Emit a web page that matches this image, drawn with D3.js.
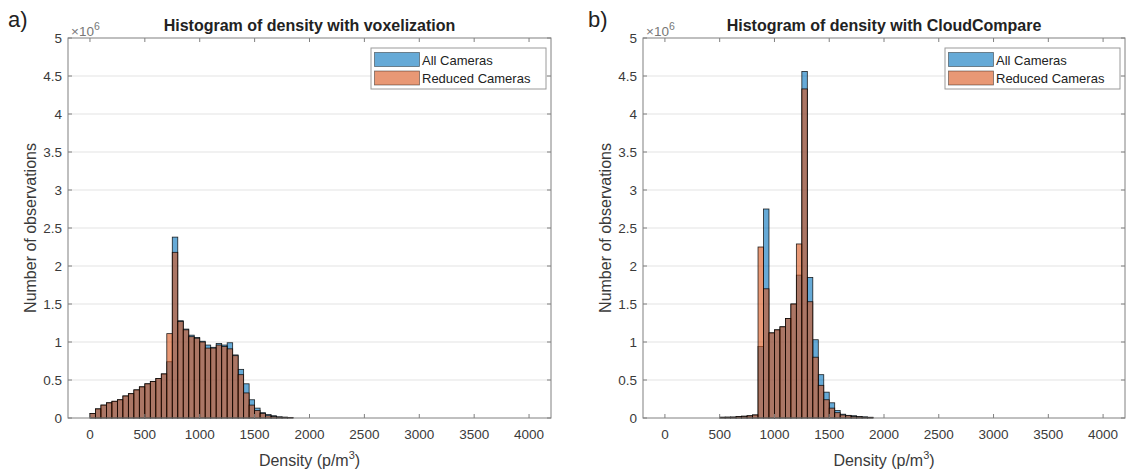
<!DOCTYPE html>
<html>
<head>
<meta charset="utf-8">
<script src="https://cdn.jsdelivr.net/npm/d3@7"></script>
<style>
  body { margin: 0; background: #fff; }
  svg { display: block; font-family: "Liberation Sans", Arial, Helvetica, sans-serif; }
</style>
</head>
<body>
<svg id="chart" width="1127" height="474"></svg>
<script>
// ---------- DATA ----------
const seriesNames = ["All Cameras", "Reduced Cameras"];
const binWidth = 50;

// Panel a) Histogram of density with voxelization
const binsA = [0,50,100,150,200,250,300,350,400,450,500,550,600,650,700,750,800,850,900,950,
               1000,1050,1100,1150,1200,1250,1300,1350,1400,1450,1500,1550,1600,1650,1700,1750,1800];
const allA = [0.06,0.12,0.17,0.20,0.22,0.24,0.29,0.32,0.37,0.41,0.45,0.48,0.52,0.58,0.74,2.38,1.28,1.17,1.09,1.06,
              1.01,0.96,0.93,0.98,0.96,0.99,0.83,0.64,0.45,0.24,0.13,0.07,0.045,0.03,0.015,0.012,0.008];
const redA = [0.06,0.12,0.17,0.20,0.22,0.24,0.29,0.32,0.37,0.41,0.45,0.48,0.52,0.58,1.11,2.18,1.27,1.16,1.07,1.05,
              1.00,0.92,0.92,0.96,0.94,0.91,0.82,0.57,0.33,0.17,0.10,0.06,0.03,0.02,0.012,0.008,0.005];

// Panel b) Histogram of density with CloudCompare
const binsB = [500,550,600,650,700,750,800,850,900,950,1000,1050,1100,1150,1200,1250,1300,1350,1400,1450,
               1500,1550,1600,1650,1700,1750,1800,1850];
const allB = [0.01,0.012,0.012,0.02,0.025,0.03,0.04,0.94,2.75,1.12,1.16,1.20,1.31,1.50,1.88,4.56,1.85,1.03,0.57,0.34,
              0.20,0.10,0.05,0.035,0.03,0.02,0.015,0.01];
const redB = [0.01,0.01,0.012,0.018,0.022,0.028,0.04,2.25,1.70,1.12,1.16,1.20,1.31,1.50,2.29,4.33,1.53,0.80,0.43,0.24,
              0.13,0.07,0.04,0.03,0.02,0.015,0.01,0.008];

const xTicks = [0,500,1000,1500,2000,2500,3000,3500,4000];
const yTicks = [0,0.5,1,1.5,2,2.5,3,3.5,4,4.5,5];
const yTickLabels = ["0","0.5","1","1.5","2","2.5","3","3.5","4","4.5","5"];
const scaleUnit = 1e6;

const titles = ["Histogram of density with voxelization", "Histogram of density with CloudCompare"];
const panelLetters = ["a)", "b)"];
const xLabel = "Density (p/m";
const yLabel = "Number of observations";

// ---------- STYLE ----------
const colors = ["rgb(0,114,189)", "rgb(217,83,25)"];
const faceAlpha = 0.6;
const axisColor = "#808080";
const textColor = "#3a3a3a";

const svg = d3.select("#chart");

function drawPanel(p) {
  const g = svg.append("g");
  const x = d3.scaleLinear().domain([-200, 4200]).range([p.left, p.right]);
  const y = d3.scaleLinear().domain([0, 5 * scaleUnit]).range([p.bottom, p.top]);

  // grid
  g.append("g").selectAll("line").data(yTicks.slice(1, -1)).join("line")
    .attr("x1", p.left).attr("x2", p.right)
    .attr("y1", d => y(d * scaleUnit)).attr("y2", d => y(d * scaleUnit))
    .attr("stroke", "#e3e3e3").attr("stroke-width", 1);

  // bars
  p.series.forEach((vals, si) => {
    g.append("g").selectAll("rect").data(p.bins.map((b, i) => ({b, v: vals[i] * scaleUnit})))
      .join("rect")
      .attr("x", d => x(d.b))
      .attr("width", d => x(d.b + binWidth) - x(d.b))
      .attr("y", d => y(d.v))
      .attr("height", d => y(0) - y(d.v))
      .attr("fill", colors[si]).attr("fill-opacity", faceAlpha)
      .attr("stroke", "#000").attr("stroke-width", 0.8).attr("stroke-opacity", 0.85);
  });

  // axes (box with inward ticks)
  const tl = 4;
  const ax = g.append("g").attr("stroke", axisColor).attr("stroke-width", 1).attr("fill", "none");
  ax.append("rect").attr("x", p.left).attr("y", p.top)
    .attr("width", p.right - p.left).attr("height", p.bottom - p.top);
  xTicks.forEach(t => {
    ax.append("line").attr("x1", x(t)).attr("x2", x(t)).attr("y1", p.bottom).attr("y2", p.bottom - tl);
    ax.append("line").attr("x1", x(t)).attr("x2", x(t)).attr("y1", p.top).attr("y2", p.top + tl);
  });
  yTicks.forEach(t => {
    ax.append("line").attr("x1", p.left).attr("x2", p.left + tl).attr("y1", y(t * scaleUnit)).attr("y2", y(t * scaleUnit));
    ax.append("line").attr("x1", p.right).attr("x2", p.right - tl).attr("y1", y(t * scaleUnit)).attr("y2", y(t * scaleUnit));
  });

  // tick labels
  g.append("g").selectAll("text").data(xTicks).join("text")
    .attr("x", d => x(d)).attr("y", p.bottom + 21)
    .attr("text-anchor", "middle").attr("font-size", 13.5).attr("fill", textColor)
    .text(d => String(d));
  g.append("g").selectAll("text").data(yTicks).join("text")
    .attr("x", p.left - 6).attr("y", d => y(d * scaleUnit) + 5)
    .attr("text-anchor", "end").attr("font-size", 13.5).attr("fill", textColor)
    .text((d, i) => yTickLabels[i]);

  // exponent
  const ex = g.append("text").attr("x", p.left + 3).attr("y", p.top - 2)
    .attr("font-size", 13.5).attr("fill", "#777");
  ex.append("tspan").text("\u00d710");
  ex.append("tspan").attr("dy", -6).attr("font-size", 10.5).text("6");

  // title
  g.append("text").attr("x", (p.left + p.right) / 2).attr("y", 31)
    .attr("text-anchor", "middle").attr("font-size", 16).attr("font-weight", "bold")
    .attr("fill", "#222").text(p.title);

  // x label
  const xl = g.append("text").attr("x", (p.left + p.right) / 2).attr("y", 466)
    .attr("text-anchor", "middle").attr("font-size", 16).attr("fill", textColor);
  xl.append("tspan").text(xLabel);
  xl.append("tspan").attr("dy", -7).attr("font-size", 11).text("3");
  xl.append("tspan").attr("dy", 7).text(")");

  // y label
  g.append("text")
    .attr("transform", `translate(${p.left - 32},${(p.top + p.bottom) / 2}) rotate(-90)`)
    .attr("text-anchor", "middle").attr("font-size", 16).attr("fill", textColor)
    .text(yLabel);

  // panel letter
  g.append("text").attr("x", p.letterX).attr("y", 27)
    .attr("font-size", 22).attr("fill", "#222").text(p.letter);

  // legend
  const lw = 175, lh = 41;
  const lx = p.right - lw - 5, ly = 48;
  const lg = g.append("g");
  lg.append("rect").attr("x", lx).attr("y", ly).attr("width", lw).attr("height", lh)
    .attr("fill", "#fff").attr("stroke", "#9a9a9a").attr("stroke-width", 1);
  seriesNames.forEach((name, i) => {
    const ry = ly + 4.5 + i * 18.5;
    lg.append("rect").attr("x", lx + 3.5).attr("y", ry).attr("width", 45).attr("height", 14)
      .attr("fill", colors[i]).attr("fill-opacity", faceAlpha)
      .attr("stroke", "#000").attr("stroke-width", 0.8).attr("stroke-opacity", 0.5);
    lg.append("text").attr("x", lx + 51).attr("y", ry + 12)
      .attr("font-size", 13).attr("fill", "#222").text(name);
  });
}

drawPanel({left: 68, right: 551, top: 38, bottom: 418, bins: binsA, series: [allA, redA],
           title: titles[0], letter: panelLetters[0], letterX: 8});
drawPanel({left: 643, right: 1125, top: 38, bottom: 418, bins: binsB, series: [allB, redB],
           title: titles[1], letter: panelLetters[1], letterX: 588});
</script>
</body>
</html>
